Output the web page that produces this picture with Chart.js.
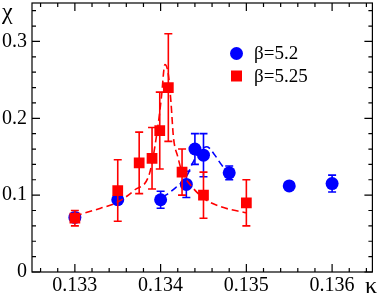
<!DOCTYPE html>
<html>
<head>
<meta charset="utf-8">
<script src="https://cdn.jsdelivr.net/npm/chart.js@4/dist/chart.umd.min.js"></script>
<style>
  body { margin: 0; background: #fff; }
</style>
</head>
<body>
<canvas id="chiChart" width="380" height="297"></canvas>
<script>
// beta = 5.2 measurements
const kappa52 = [0.1330, 0.1335, 0.1340, 0.1343, 0.1344, 0.1345, 0.1348, 0.1355, 0.1360];
const chi52   = [0.071, 0.094, 0.094, 0.114, 0.160, 0.152, 0.129, 0.112, 0.115];
const err52   = [0.006, 0.005, 0.011, 0.017, 0.020, 0.028, 0.009, 0.004, 0.011];

// beta = 5.25 measurements
const kappa525 = [0.1330, 0.1335, 0.13375, 0.13390, 0.13399, 0.13409, 0.13425, 0.1345, 0.1350];
const chi525   = [0.070, 0.106, 0.142, 0.148, 0.184, 0.240, 0.130, 0.100, 0.090];
const err525   = [0.010, 0.040, 0.040, 0.040, 0.050, 0.070, 0.030, 0.030, 0.030];

// dashed curves (reweighting)
const curveKappa52 = [0.13402, 0.13414, 0.13431, 0.13437, 0.13445, 0.13454, 0.13462, 0.13470, 0.13476];
const curveChi52   = [0.097, 0.1065, 0.126, 0.141, 0.156, 0.163, 0.154, 0.141, 0.132];
const curveKappa525 = [0.1330, 0.1333, 0.1335, 0.1337, 0.13387, 0.13397, 0.13401, 0.13405, 0.13409,
                       0.13412, 0.13415, 0.13420, 0.13425, 0.13435, 0.1345, 0.1347, 0.1350];
const curveChi525   = [0.073, 0.083, 0.091, 0.107, 0.128, 0.191, 0.228, 0.270, 0.257,
                       0.222, 0.175, 0.150, 0.130, 0.113, 0.096, 0.085, 0.077];

// axis ticks
const xTickStep = 0.001;
const yTickStep = 0.1;
const legendLabels = ['β=5.2', 'β=5.25'];

const BLUE = '#0000ff';
const RED = '#ff0000';
const SERIF = '"Liberation Serif"';
const PLOT_TOP = 3;

const toPoints = (xs, ys) => xs.map((x, i) => ({ x: x, y: ys[i] }));

// keep the plot frame close to the top edge, like the original figure
const pinTop = {
    id: 'pinTop',
    afterLayout(chart) {
        const area = chart.chartArea;
        const y = chart.scales.y;
        if (area.top <= PLOT_TOP) return;
        area.top = PLOT_TOP;
        area.height = area.bottom - PLOT_TOP;
        y.top = PLOT_TOP;
        y.height = y.bottom - PLOT_TOP;
        y.configure();
    }
};

// error bars drawn just before the dataset's own markers
const errorBars = {
    id: 'errorBars',
    beforeDatasetDraw(chart, args) {
        const ds = chart.data.datasets[args.index];
        if (!ds.errors) return;
        const { ctx } = chart;
        const x = chart.scales.x, y = chart.scales.y;
        ctx.save();
        ctx.strokeStyle = ds.backgroundColor;
        ctx.lineWidth = 1.6;
        ds.data.forEach((p, i) => {
            const px = x.getPixelForValue(p.x);
            const top = y.getPixelForValue(p.y + ds.errors[i]);
            const bot = y.getPixelForValue(p.y - ds.errors[i]);
            ctx.beginPath();
            ctx.moveTo(px, top); ctx.lineTo(px, bot);
            ctx.moveTo(px - 4, top); ctx.lineTo(px + 4, top);
            ctx.moveTo(px - 4, bot); ctx.lineTo(px + 4, bot);
            ctx.stroke();
        });
        ctx.restore();
    }
};

// frame with inward ticks on all four sides, axis symbols and legend
const frame = {
    id: 'frame',
    afterDraw(chart) {
        const { ctx, chartArea: a } = chart;
        const x = chart.scales.x, y = chart.scales.y;
        ctx.save();
        ctx.strokeStyle = '#000';
        ctx.lineWidth = 1.2;
        ctx.strokeRect(a.left, a.top, a.right - a.left, a.bottom - a.top);

        ctx.beginPath();
        // kappa ticks every 0.0002
        for (let k = 1326; k <= 1364; k += 2) {
            const px = x.getPixelForValue(k / 10000);
            const len = k % 10 === 0 ? 8 : 4;
            ctx.moveTo(px, a.bottom); ctx.lineTo(px, a.bottom - len);
            ctx.moveTo(px, a.top); ctx.lineTo(px, a.top + len);
        }
        // chi ticks every 0.02
        for (let k = 0; k <= 17; k++) {
            const py = y.getPixelForValue(k * 0.02);
            const len = k % 5 === 0 ? 8 : 4;
            ctx.moveTo(a.left, py); ctx.lineTo(a.left + len, py);
            ctx.moveTo(a.right, py); ctx.lineTo(a.right - len, py);
        }
        ctx.stroke();

        ctx.fillStyle = '#000';
        ctx.font = '24px ' + SERIF;
        ctx.textBaseline = 'alphabetic';
        ctx.textAlign = 'left';
        ctx.fillText('χ', 2, 19);
        ctx.fillText('κ', 365, 293);

        // legend, in the order of legendLabels
        ctx.font = '19px ' + SERIF;
        ctx.textBaseline = 'middle';
        legendLabels.forEach((label, i) => {
            const d = chart.data.datasets.find(ds => ds.legendLabel === label);
            const cy = 53.5 + i * 22.5;
            ctx.fillStyle = d.backgroundColor;
            ctx.beginPath();
            if (d.pointStyle === 'rect') {
                ctx.rect(236.5 - 5.5, cy - 5.5, 11, 11);
            } else {
                ctx.arc(236.5, cy, 6.5, 0, Math.PI * 2);
            }
            ctx.fill();
            ctx.fillStyle = '#000';
            ctx.fillText(label, 254, cy + 1);
        });
        ctx.restore();
    }
};

const ctx = document.getElementById('chiChart').getContext('2d');
new Chart(ctx, {
    type: 'scatter',
    data: {
        datasets: [
            {
                legendLabel: 'β=5.25',
                data: toPoints(kappa525, chi525),
                errors: err525,
                backgroundColor: RED,
                borderWidth: 0,
                pointStyle: 'rect',
                pointRadius: 7.6,
                order: 0
            },
            {
                data: toPoints(curveKappa525, curveChi525),
                showLine: true,
                borderColor: RED,
                borderWidth: 1.6,
                borderDash: [7, 4],
                cubicInterpolationMode: 'monotone',
                pointRadius: 0,
                order: 1
            },
            {
                legendLabel: 'β=5.2',
                data: toPoints(kappa52, chi52),
                errors: err52,
                backgroundColor: BLUE,
                borderWidth: 0,
                pointStyle: 'circle',
                pointRadius: 6.5,
                order: 2
            },
            {
                data: toPoints(curveKappa52, curveChi52),
                showLine: true,
                borderColor: BLUE,
                borderWidth: 1.6,
                borderDash: [7, 4],
                cubicInterpolationMode: 'monotone',
                pointRadius: 0,
                order: 3
            }
        ]
    },
    options: {
        responsive: false,
        animation: false,
        layout: { padding: { top: 2, right: 5, left: 0, bottom: -3 } },
        plugins: {
            legend: { display: false },
            tooltip: { enabled: false }
        },
        scales: {
            x: {
                type: 'linear',
                min: 0.1325,
                max: 0.13647,
                grid: { display: false, drawTicks: false, tickLength: 0 },
                border: { display: false },
                afterFit: s => {
                    s.height = 28;
                    s.paddingLeft = 0;
                    s.paddingRight = 0;
                },
                ticks: {
                    stepSize: xTickStep,
                    includeBounds: false,
                    autoSkip: false,
                    maxRotation: 0,
                    padding: 2,
                    color: '#000',
                    font: { family: SERIF, size: 20 },
                    callback: v => v.toFixed(3)
                }
            },
            y: {
                min: 0,
                max: 0.35,
                grid: { display: false, drawTicks: false, tickLength: 0 },
                border: { display: false },
                afterFit: s => {
                    s.width = 32;
                    s.paddingTop = 0;
                    s.paddingBottom = 0;
                },
                ticks: {
                    stepSize: yTickStep,
                    includeBounds: false,
                    padding: 5,
                    color: '#000',
                    font: { family: SERIF, size: 20 },
                    callback: v => (v === 0 ? '0' : v.toFixed(1))
                }
            }
        }
    },
    plugins: [pinTop, errorBars, frame]
});
</script>
</body>
</html>
